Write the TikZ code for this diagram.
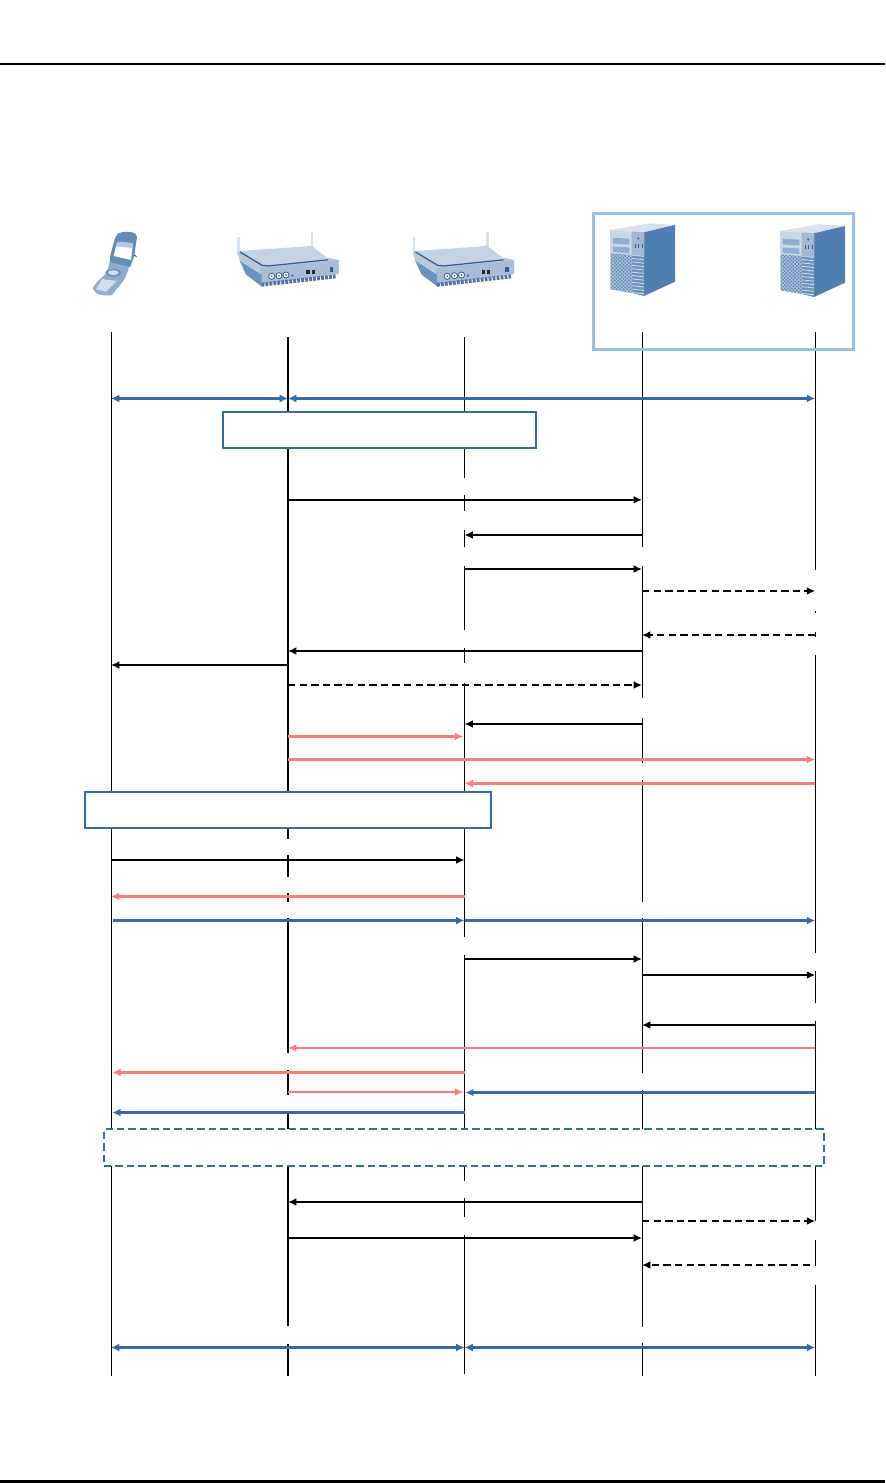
\documentclass[tikz,border=0pt]{standalone}
\usetikzlibrary{arrows.meta}
\definecolor{seqblue}{HTML}{336BA5}
\definecolor{seqpink}{HTML}{FF7C7C}
\definecolor{framblue}{HTML}{9CC0E3}
\definecolor{iconA}{HTML}{4F7FB0}
\definecolor{iconB}{HTML}{8FADD0}
\definecolor{iconC}{HTML}{B9CADF}
\definecolor{iconD}{HTML}{D8E2EE}
\definecolor{iconE}{HTML}{2F5A90}
\definecolor{iconF}{HTML}{A4B8D3}
\tikzset{
  life/.style={black,line width=0.75pt},
  lifeb/.style={black,line width=1.5pt},
  tipk/.style={-{Latex[length=6.2pt,width=5.8pt]}},
  msg/.style={black,line width=1.3pt,tipk},
  msgd/.style={black,line width=1.3pt,tipk,dash pattern=on 5.5pt off 3.2pt},
  blu/.style={seqblue,line width=2.2pt,tipk},
  bluboth/.style={seqblue,line width=2.2pt,{Latex[length=6.2pt,width=6pt]}-{Latex[length=6.2pt,width=6pt]}},
  pnk/.style={seqpink,line width=2pt,tipk},
  pnkt/.style={seqpink,line width=1.5pt,tipk},
  note/.style={draw=seqblue,fill=white,line width=1.3pt,inner sep=0pt,outer sep=0pt},
}
\newcommand{\mymsg}[4]{\draw[#1] (#2 |- 0,#4) -- (#3 |- 0,#4);}
\newcommand{\lseg}[4]{\draw[#1] (#2 |- 0,#3) -- (#2 |- 0,#4);}
\newcommand{\routericon}[1]{%
\begin{scope}[shift={(#1,0)}]
  \fill[iconD] (237,237) rectangle (239.5,254);
  \fill[iconD] (310.7,232) rectangle (313,248);
  \fill[iconC] (237.3,252.5) -- (240,250.5) -- (329.5,258) -- (338.7,260) -- (338.7,274) -- (261,285) -- (246,274) -- (240,262) -- cycle;
  \fill[iconF!70!iconC] (260,268.5) -- (338.7,260) -- (338.7,274) -- (262,284) -- cycle;
  \fill[iconA!85!white] (240,261) -- (261.7,275) -- (261.7,286.5) -- (246,274.5) -- cycle;
  \fill[iconC!85!white] (240,251) -- (311.7,246) -- (329.3,259.3) -- (266.7,266) -- cycle;
  \draw[iconE,line width=0.9pt] (240,252) -- (262,265.3) -- (268,266) -- (328,259.8);
  \draw[iconE!85!white,line width=3pt,dash pattern=on 2.1pt off 0.9pt] (261.5,284.7) -- (335.5,276.4);
  \foreach \cx/\cy in {271.7/276.3,279/275.7,286/275}{
    \fill[iconE] (\cx,\cy) circle (3.5);
    \fill[white] (\cx,\cy) circle (2.5);
    \fill[iconA] (\cx,\cy) circle (1.1);
  }
  \fill[iconA] (292.3,275.7) circle (1.5);
  \fill[iconB] (299,275) circle (0.9);
  \fill[black!85] (306.3,270.5) rectangle (309.8,274);
  \fill[black!85] (311.7,270.2) rectangle (314.7,273.6);
  \fill[iconE] (329.5,267.5) rectangle (333,272.5);
\end{scope}}
\newcommand{\servericon}[2]{%
\begin{scope}[shift={(#1,#2)}]
  \fill[iconD] (610,230) -- (649,223.3) -- (675,225) -- (644,232.3) -- cycle;
  \fill[iconA] (644,232.3) -- (675,225) -- (675,281.7) -- (644,296) -- cycle;
  \fill[iconC!75!white] (610,230) -- (644,232.3) -- (644,256) -- (610,253) -- cycle;
  \fill[iconF] (631.7,231.5) -- (644,232.3) -- (644,256) -- (631.7,255) -- cycle;
  \fill[iconB] (612.7,237.7) -- (629.3,238.7) -- (629.3,244.5) -- (612.7,243.5) -- cycle;
  \fill[iconB] (612.7,246.5) -- (629.3,247.5) -- (629.3,253) -- (612.7,252) -- cycle;
  \fill[iconE] (638.2,238.5) circle (1.2);
  \foreach \px in {634.5,638,641.5}{\fill[iconE] (\px,244) rectangle ++(0.9,4);}
  \begin{scope}
    \clip (610.7,253.3) -- (631.5,255) -- (631.5,293) -- (610.7,289.3) -- cycle;
    \fill[iconA!90!white] (605,250) rectangle (635,296);
    \foreach \k in {-30,-26.5,...,50}{
      \draw[iconC,line width=0.35pt] (605,250+\k) -- (635,280+\k);
      \draw[iconC,line width=0.35pt] (605,280+\k) -- (635,250+\k);
    }
  \end{scope}
  \begin{scope}
    \clip (631.5,255) -- (644,256) -- (644,296) -- (631.5,293) -- cycle;
    \fill[iconA!85!white] (630,250) rectangle (646,298);
    \foreach \k in {0,3.4,...,44}{
      \draw[iconD,line width=0.6pt] (631,255+\k) -- (645,256.5+\k);
    }
  \end{scope}
\end{scope}}
\begin{document}
\begin{tikzpicture}[x=0.75pt,y=-0.75pt]
\useasboundingbox (0,0) rectangle (885,1483);
\fill[white] (0,0) rectangle (885,1483);
% page rules
\coordinate (ruleL) at (0,64);
\coordinate (ruleR) at (885,64);
\draw[black,line width=0.95pt] (ruleL) -- (ruleR);
\fill[black] (0,1480) rectangle (885,1483);
% lifeline columns
\coordinate (A) at (111,0);
\coordinate (B) at (288,0);
\coordinate (C) at (464.5,0);
\coordinate (D) at (642,0);
\coordinate (E) at (815.2,0);
% phone
\fill[iconB] (110,261) -- (129,266) -- (128,271) -- (124,280) -- (112,295) .. controls (105,296) and (96,296) .. (92.7,288.3) .. controls (95,283) and (101,278) .. (106.7,273) -- cycle;
\fill[iconD!80!iconC] (102,279) -- (116.7,281) -- (106,292) -- (96,289.3) -- cycle;
\fill[iconA!90!white] (118.3,233.3) .. controls (123,231.5) and (129,231.5) .. (131.7,232.3) .. controls (135,233) and (137,235) .. (137,237) -- (134,256.7) -- (130,267) -- (110,262) -- (110,256.7) -- (115,238) -- cycle;
\fill[white] (117,243.3) -- (133,244.5) -- (131,260) -- (113.5,256) -- cycle;
\fill[iconC] (117,241.5) -- (133.2,243) -- (132.7,248) -- (116,246.5) -- cycle;
\fill[iconA!85!white] (113.3,272.7) ellipse (8 and 4);
\fill[iconD] (113.3,272.7) ellipse (5.2 and 2.5);
\draw[iconE,line width=0.8pt] (134,255) -- (136.5,256.5);
\routericon{0}
\routericon{175.5}
\servericon{0}{0}
\servericon{170}{1}
% lifelines
\lseg{life}{A}{332}{1376}
\lseg{lifeb}{B}{337}{838.7}
\lseg{lifeb}{B}{855}{876.7}
\lseg{lifeb}{B}{892.7}{901.7}
\lseg{lifeb}{B}{917.7}{1052.7}
\lseg{lifeb}{B}{1070}{1094.7}
\lseg{lifeb}{B}{1113}{1326}
\lseg{lifeb}{B}{1344}{1376}
\lseg{life}{C}{337}{477.7}
\lseg{life}{C}{495}{510.7}
\lseg{life}{C}{530}{546.7}
\lseg{life}{C}{566}{630}
\lseg{life}{C}{648}{663}
\lseg{life}{C}{683}{936.7}
\lseg{life}{C}{955}{1180.7}
\lseg{life}{C}{1198}{1217}
\lseg{life}{C}{1235}{1374}
\lseg{life}{D}{332}{546.7}
\lseg{life}{D}{566}{698}
\lseg{life}{D}{718}{763}
\lseg{life}{D}{780}{902}
\lseg{life}{D}{918}{1073}
\lseg{life}{D}{1090}{1326.7}
\lseg{life}{D}{1343}{1376}
\lseg{life}{E}{332}{570}
\lseg{life}{E}{611}{613}
\lseg{life}{E}{632}{637}
\lseg{life}{E}{655}{952.7}
\lseg{life}{E}{971}{1002.7}
\lseg{life}{E}{1021}{1221}
\lseg{life}{E}{1240}{1266}
\lseg{life}{E}{1285}{1376}
% frame around servers
\node[draw=framblue,line width=2.6pt,inner sep=0pt,minimum width=260pt*0.75,minimum height=136pt*0.75] (frame) at (723.3,281.3) {};
% notes
\node[note,minimum width=313pt*0.75,minimum height=36pt*0.75] (note1) at (379.3,430) {};
\node[note,minimum width=406.3pt*0.75,minimum height=36pt*0.75] (note2) at (288.2,810) {};
\node[note,dash pattern=on 5.6pt off 3pt,minimum width=720pt*0.75,minimum height=36.7pt*0.75] (note3) at (464,1147.7) {};
% messages
\mymsg{bluboth}{A}{B}{398.5}
\mymsg{bluboth}{B}{E}{398.5}
\mymsg{msg}{B}{D}{499.8}
\mymsg{msg}{D}{C}{535}
\mymsg{msg}{C}{D}{569}
\mymsg{msgd}{D}{E}{591}
\mymsg{msgd}{E}{D}{635}
\mymsg{msg}{D}{B}{651}
\mymsg{msg}{B}{A}{665}
\mymsg{msgd}{B}{D}{685}
\mymsg{msg}{D}{C}{724}
\mymsg{pnk,shorten >=1pt}{B}{C}{736.5}
\mymsg{pnk}{B}{E}{759.5}
\mymsg{pnk}{E}{C}{783.5}
\mymsg{msg}{A}{C}{860}
\mymsg{pnk}{C}{A}{896.5}
\mymsg{blu,shorten <=1.5pt}{A}{C}{920.5}
\mymsg{blu}{C}{E}{920.5}
\mymsg{msg}{C}{D}{959}
\mymsg{msg}{D}{E}{975}
\mymsg{msg}{E}{D}{1025}
\mymsg{pnkt}{E}{B}{1048}
\mymsg{pnk,shorten >=1pt}{C}{A}{1072.5}
\mymsg{pnkt,shorten >=1pt}{B}{C}{1092}
\mymsg{blu,shorten >=0.5pt}{E}{C}{1092.5}
\mymsg{blu,shorten >=1pt}{C}{A}{1112.5}
\mymsg{msg}{D}{B}{1202}
\mymsg{msgd}{D}{E}{1221}
\mymsg{msg}{B}{D}{1238}
\mymsg{msgd,shorten <=4pt}{E}{D}{1265}
\mymsg{bluboth}{A}{C}{1347.5}
\mymsg{bluboth}{C}{E}{1347.5}
\end{tikzpicture}
\end{document}
